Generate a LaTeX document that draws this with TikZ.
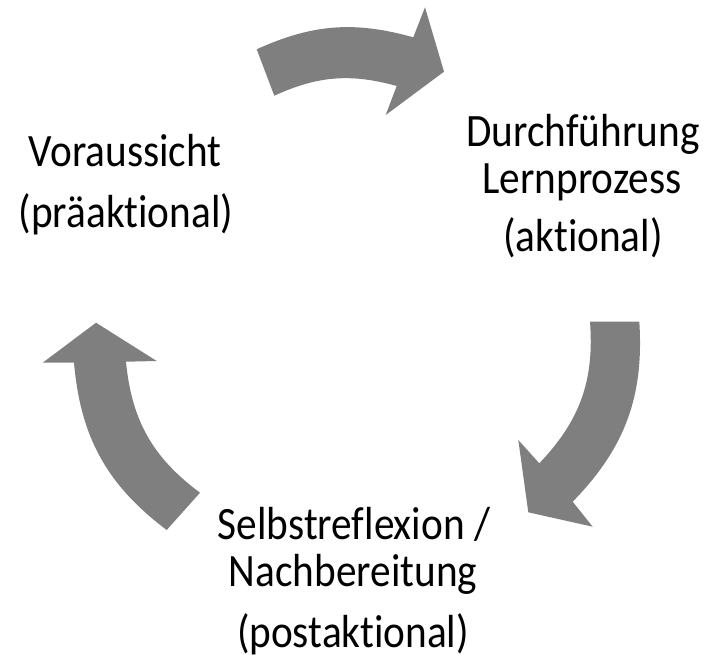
\documentclass[tikz,border=0pt]{standalone}
\usepackage{fontspec}
\newfontfamily\cyclefont{Carlito}[FakeStretch=0.89,Ligatures={NoCommon}]
\usepackage{tikz}
\usetikzlibrary{positioning}
\definecolor{arrowgray}{RGB}{127,127,127}
\begin{document}
\begin{tikzpicture}[x=1pt,y=-1pt,
	phase/.style={font=\cyclefont\fontsize{46.4}{50}\selectfont,anchor=base,inner sep=0pt},
	cyc/.style={fill=arrowgray,draw=none}]
	\useasboundingbox (0,0) rectangle (710,655);
	% phases
	\node[phase] (vor) at (125,167) {Voraussicht};
	\node[phase] (vorB) at (126,227.5) {(präaktional)};
	\node[phase] (durch) at (583,147) {Durchführung};
	\node[phase] (durchB) at (582,193.5) {Lernprozess};
	\node[phase] (durchC) at (583,252) {(aktional)};
	\node[phase] (selbst) at (354,539) {Selbstreflexion /};
	\node[phase] (selbstB) at (353,586) {Nachbereitung};
	\node[phase] (selbstC) at (353,647) {(postaktional)};
	% arrows
	\fill[cyc] (256.7,49.3) to[bend left=20] (413.3,37.3) -- (425,7.3) -- (444,71.7) -- (385.7,115) -- (396.7,86) to[bend right=20] (274.3,95.7) -- cycle;
	\fill[cyc] (590,321.7) -- (639.3,321.7) to[bend left=24] (572.7,501.7) -- (592.7,526.7) -- (528.3,512.3) -- (518.3,440) -- (539.3,463.3) to[bend right=24] (590,321.7) -- cycle;
	\fill[cyc] (200,492.7) to[bend left=24] (126,361.7) -- (156.7,361) -- (96,322.7) -- (42.7,362.7) -- (74,362.7) to[bend right=24] (166.7,530) -- cycle;
\end{tikzpicture}
\end{document}
